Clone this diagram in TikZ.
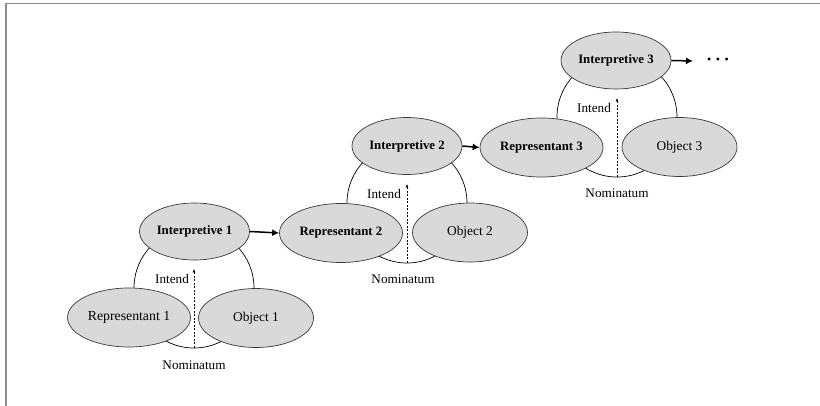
\documentclass[tikz,border=0pt]{standalone}
\usepackage{fontspec}
\setmainfont{Liberation Serif}
\usetikzlibrary{shapes.geometric,arrows.meta,backgrounds}
\definecolor{nodefill}{HTML}{D9D9D9}
\definecolor{nodeline}{HTML}{3A3A3A}
\definecolor{framegray}{HTML}{8C8C8C}
\begin{document}
\begin{tikzpicture}[x=1pt,y=-1pt,
  sign/.style={ellipse,draw=nodeline,line width=0.7pt,fill=nodefill,inner sep=0pt},
  interp/.style={sign,minimum width=110pt,minimum height=57pt,font=\fontsize{12.8}{14}\selectfont\bfseries},
  repb/.style={sign,minimum width=123pt,minimum height=59pt,font=\fontsize{12.8}{14}\selectfont\bfseries},
  repr/.style={sign,minimum width=123pt,minimum height=59pt,font=\fontsize{13.8}{15}\selectfont},
  obj/.style={sign,minimum width=115pt,minimum height=59pt,font=\fontsize{13.4}{15}\selectfont},
  lbl/.style={inner sep=0pt,font=\fontsize{13.2}{15}\selectfont},
  loop/.style={draw=black,line width=0.7pt},
  link/.style={line width=1.5pt,-{Latex[length=7pt,width=7pt]}},
  intend/.style={line width=0.6pt,dash pattern=on 2pt off 1.5pt,-{Latex[length=3.5pt,width=3pt]}}
]
\useasboundingbox (0,0) rectangle (820,406);
% page frame (top and left rules only)
\draw[framegray,line width=1.3pt] (6,406) -- (6,3.5) -- (820,3.5);

% group 1
\node[interp] (I1) at (194.5,231.5) {Interpretive 1};
\node[repr]   (R1) at (129,317.5) {Representant 1};
\node[obj]    (O1) at (256,318) {Object 1};
\coordinate (c1) at (194,288);
\coordinate (b1) at (194,348);
\coordinate (t1) at (194,269);
\node[lbl] (in1) at (172,279) {Intend};
\node[lbl] (no1) at (194,365) {Nominatum};

% group 2
\node[interp] (I2) at (407,146) {Interpretive 2};
\node[repb]   (R2) at (341,233) {Representant 2};
\node[obj]    (O2) at (470,232.5) {Object 2};
\coordinate (c2) at (407,203);
\coordinate (b2) at (407,263);
\coordinate (t2) at (407,184);
\node[lbl] (in2) at (384,194) {Intend};
\node[lbl] (no2) at (403,279) {Nominatum};

% group 3
\node[interp] (I3) at (616,60.5) {Interpretive 3};
\node[repb]   (R3) at (541.5,147.5) {Representant 3};
\node[obj]    (O3) at (679.5,147) {Object 3};
\coordinate (c3) at (617,117);
\coordinate (b3) at (617,177);
\coordinate (t3) at (617,98);
\node[lbl] (in3) at (594,108) {Intend};
\node[lbl] (no3) at (617,193) {Nominatum};

% continuation
\coordinate (e3) at (693,61);
\node[inner sep=0pt,font=\fontsize{12}{12}\selectfont] (more) at (718,61)
  {\textbullet\hspace{4.5pt}\textbullet\hspace{4.5pt}\textbullet};

% triadic loops behind the signs
\begin{scope}[on background layer]
  \draw[loop] (c1) circle[radius=60];
  \draw[loop] (c2) circle[radius=60];
  \draw[loop] (c3) circle[radius=60];
\end{scope}

% intention arrows
\draw[intend] (b1) -- (t1);
\draw[intend] (b2) -- (t2);
\draw[intend] (b3) -- (t3);

% semiosis chain
\draw[link] (I1.east) -- (R2.west);
\draw[link] (I2.east) -- (R3.west);
\draw[link] (I3.east) -- (e3);
\end{tikzpicture}
\end{document}
